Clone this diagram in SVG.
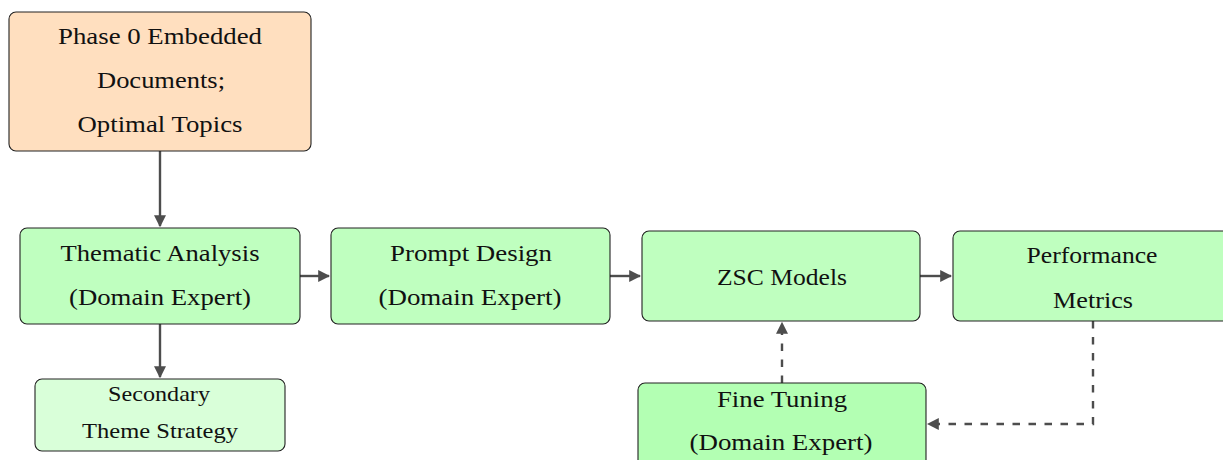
<svg xmlns="http://www.w3.org/2000/svg" width="1223" height="460" viewBox="0 0 1223 460">
<style>
.box{stroke:#222;stroke-width:1.1}
.t{font-family:"Liberation Serif","DejaVu Serif",serif;font-size:24px;fill:#111;text-anchor:middle}
.s{font-size:21px}
.c{stroke:#4d4d4d;stroke-width:2.4;fill:none}
.d{stroke-dasharray:7.5,8.5}
</style>
<defs>
<marker id="ah" viewBox="0 0 10 10" refX="9" refY="5" markerWidth="5" markerHeight="5" markerUnits="strokeWidth" orient="auto">
<path d="M0,0 L10,5 L0,10 Z" fill="#4d4d4d"/>
</marker>
</defs>
<rect width="1223" height="460" fill="#fff"/>
<g id="connectors">
<path class="c" d="M160,151 V226" marker-end="url(#ah)"/>
<path class="c" d="M160,324 V377" marker-end="url(#ah)"/>
<path class="c" d="M300,276 H329" marker-end="url(#ah)"/>
<path class="c" d="M610,276 H640" marker-end="url(#ah)"/>
<path class="c" d="M920,276 H951" marker-end="url(#ah)"/>
<path class="c d" d="M782,383 V323" marker-end="url(#ah)"/>
<path class="c d" d="M1093,321 V424 H928" marker-end="url(#ah)"/>
</g>
<g id="phase0">
<rect class="box" x="9" y="12" width="302" height="139" rx="7" fill="#FFDFBF"/>
<text class="t" x="160" y="44" textLength="204" lengthAdjust="spacingAndGlyphs">Phase 0 Embedded</text>
<text class="t" x="161" y="88" textLength="128" lengthAdjust="spacingAndGlyphs">Documents;</text>
<text class="t" x="160" y="132" textLength="165" lengthAdjust="spacingAndGlyphs">Optimal Topics</text>
</g>
<g id="thematic">
<rect class="box" x="20" y="228" width="280" height="96" rx="7" fill="#BFFFBF"/>
<text class="t" x="160" y="261" textLength="199" lengthAdjust="spacingAndGlyphs">Thematic Analysis</text>
<text class="t" x="160" y="305" textLength="182" lengthAdjust="spacingAndGlyphs">(Domain Expert)</text>
</g>
<g id="prompt">
<rect class="box" x="331" y="228" width="279" height="96" rx="7" fill="#BFFFBF"/>
<text class="t" x="471" y="261" textLength="162" lengthAdjust="spacingAndGlyphs">Prompt Design</text>
<text class="t" x="470" y="305" textLength="183" lengthAdjust="spacingAndGlyphs">(Domain Expert)</text>
</g>
<g id="zsc">
<rect class="box" x="642" y="231" width="278" height="90" rx="7" fill="#BFFFBF"/>
<text class="t" x="782" y="285" textLength="130" lengthAdjust="spacingAndGlyphs">ZSC Models</text>
</g>
<g id="perf">
<rect class="box" x="953" y="231" width="280" height="90" rx="7" fill="#BFFFBF"/>
<text class="t" x="1092" y="263" textLength="131" lengthAdjust="spacingAndGlyphs">Performance</text>
<text class="t" x="1093" y="308" textLength="80" lengthAdjust="spacingAndGlyphs">Metrics</text>
</g>
<g id="secondary">
<rect class="box" x="35" y="379" width="250" height="72" rx="7" fill="#D9FFD9"/>
<text class="t s" x="159" y="401" textLength="102" lengthAdjust="spacingAndGlyphs">Secondary</text>
<text class="t s" x="160" y="438" textLength="156" lengthAdjust="spacingAndGlyphs">Theme Strategy</text>
</g>
<g id="finetuning">
<rect class="box" x="638" y="383" width="288" height="90" rx="7" fill="#B3FFB3"/>
<text class="t" x="782" y="407" textLength="130" lengthAdjust="spacingAndGlyphs">Fine Tuning</text>
<text class="t" x="781" y="450" textLength="183" lengthAdjust="spacingAndGlyphs">(Domain Expert)</text>
</g>
</svg>
